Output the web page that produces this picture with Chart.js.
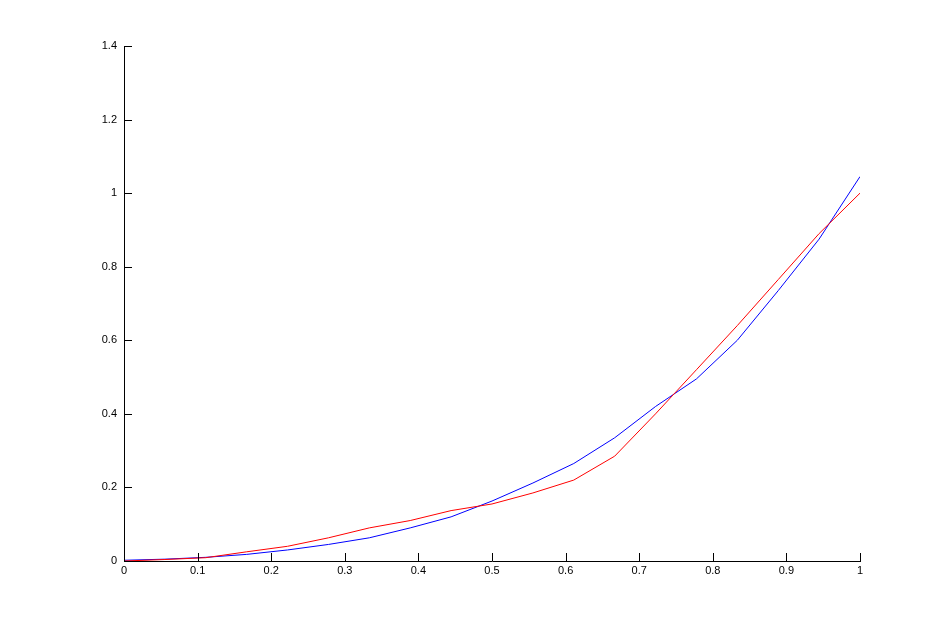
<!DOCTYPE html>
<html>
<head>
<meta charset="UTF-8" />
<title>Curves</title>
<script src="https://cdn.jsdelivr.net/npm/chart.js"></script>
<style>
  html, body { margin: 0; padding: 0; background: #fff; }
  #wrap { width: 951px; height: 631px; }
</style>
</head>
<body>
<div id="wrap"><canvas id="curveChart"></canvas></div>
<script>
  // sample positions (k/18) and the two series
  const xs = [0, 0.0556, 0.1111, 0.1667, 0.2222, 0.2778, 0.3333, 0.3889, 0.4444, 0.5,
              0.5556, 0.6111, 0.6667, 0.7222, 0.7778, 0.8333, 0.8889, 0.9444, 1];
  const redVals = [0, 0.004, 0.009, 0.025, 0.04, 0.063, 0.09, 0.11, 0.137, 0.155,
                   0.185, 0.22, 0.285, 0.40, 0.52, 0.64, 0.765, 0.89, 1.0];
  const blueVals = [0.002, 0.005, 0.01, 0.018, 0.03, 0.045, 0.063, 0.09, 0.12, 0.163,
                    0.212, 0.265, 0.335, 0.42, 0.495, 0.6, 0.735, 0.875, 1.045];
  const xTicks = [0, 0.1, 0.2, 0.3, 0.4, 0.5, 0.6, 0.7, 0.8, 0.9, 1];
  const yTicks = [0, 0.2, 0.4, 0.6, 0.8, 1, 1.2, 1.4];

  const toPoints = vals => xs.map((x, i) => ({ x, y: vals[i] }));

  // matlab-style ticks pointing into the plot
  const innerTicks = {
    id: 'innerTicks',
    afterDraw(chart) {
      const c = chart.ctx, xa = chart.scales.x, ya = chart.scales.y;
      c.save();
      c.strokeStyle = '#000';
      c.lineWidth = 1;
      c.beginPath();
      xTicks.forEach(v => {
        const px = Math.round(xa.getPixelForValue(v)) + 0.5;
        c.moveTo(px, ya.bottom);
        c.lineTo(px, ya.bottom - 8);
      });
      yTicks.forEach(v => {
        const py = Math.round(ya.getPixelForValue(v)) + 0.5;
        c.moveTo(xa.left, py);
        c.lineTo(xa.left + 8, py);
      });
      c.stroke();
      c.restore();
    }
  };

  Chart.defaults.font.family = 'Arial, "Liberation Sans", sans-serif';
  Chart.defaults.font.size = 11;
  Chart.defaults.color = '#000';

  new Chart(document.getElementById('curveChart'), {
    type: 'scatter',
    data: {
      datasets: [
        { data: toPoints(redVals), borderColor: '#ff0000', borderWidth: 1, showLine: true, pointRadius: 0, tension: 0 },
        { data: toPoints(blueVals), borderColor: '#0000ff', borderWidth: 1, showLine: true, pointRadius: 0, tension: 0 }
      ]
    },
    options: {
      responsive: true,
      maintainAspectRatio: false,
      animation: false,
      layout: { padding: { top: 46, right: 91, left: 0, bottom: 0 } },
      plugins: { legend: { display: false }, tooltip: { enabled: false } },
      scales: {
        x: {
          type: 'linear', min: 0, max: 1,
          afterFit: s => { s.height = 70; },
          afterBuildTicks: s => { s.ticks = xTicks.map(v => ({ value: v })); },
          ticks: { padding: 3, maxRotation: 0, callback: v => String(v) },
          grid: { drawOnChartArea: false, drawTicks: false },
          border: { color: '#000', width: 1 }
        },
        y: {
          type: 'linear', min: 0, max: 1.4,
          afterFit: s => { s.width = 124; },
          afterBuildTicks: s => { s.ticks = yTicks.map(v => ({ value: v })); },
          ticks: { padding: 7, callback: v => String(v) },
          grid: { drawOnChartArea: false, drawTicks: false },
          border: { color: '#000', width: 1 }
        }
      }
    },
    plugins: [innerTicks]
  });
</script>
</body>
</html>
